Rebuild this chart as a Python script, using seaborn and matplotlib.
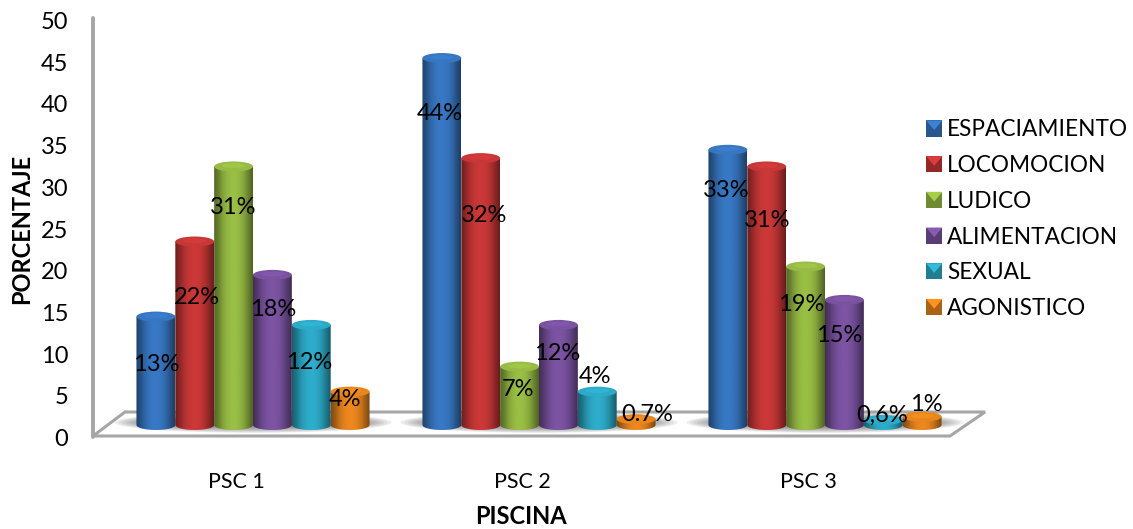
import numpy as np
import pandas as pd
import seaborn as sns
import matplotlib.pyplot as plt
from matplotlib.patches import Ellipse, Polygon, Rectangle, PathPatch
from matplotlib.path import Path
from matplotlib.legend_handler import HandlerPatch
from matplotlib.transforms import ScaledTranslation

piscinas = ['PSC 1', 'PSC 2', 'PSC 3']
conductas = ['ESPACIAMIENTO', 'LOCOMOCION', 'LUDICO', 'ALIMENTACION', 'SEXUAL', 'AGONISTICO']
colores = ['#3878C4', '#CC3838', '#9ABF45', '#7C54A3', '#2DADCB', '#EE881E']

espaciamiento = [13, 44, 33]
locomocion = [22, 32, 31]
ludico = [31, 7, 19]
alimentacion = [18, 12, 15]
sexual = [12, 4, 0.6]
agonistico = [4, 0.7, 1]

etiquetas = [['13%', '44%', '33%'], ['22%', '32%', '31%'], ['31%', '7%', '19%'],
             ['18%', '12%', '15%'], ['12%', '4%', '0,6%'], ['4%', '0.7%', '1%']]
# label offsets from the top of each bar, in pixels (x, down)
desp_x = [[0, -2, -2], [2, 3, 0], [0, -2, -4], [1, -1, -5], [-2, -2, -1], [-5, 11, 4]]
desp_y = [[48, 55, 41], [56, 57, 54], [41, 23, 38], [35, 29, 36], [38, -15, -5], [8, -5, -12]]

W, H = 1133, 529

df = pd.DataFrame({'piscina': piscinas * 6,
                   'conducta': np.repeat(conductas, 3),
                   'valor': espaciamiento + locomocion + ludico + alimentacion + sexual + agonistico})

sns.set_theme(style='white')
plt.rcParams['font.family'] = ['Lato', 'DejaVu Sans']

fig = plt.figure(figsize=(W / 100, H / 100), dpi=100)
ax = fig.add_axes([110 / W, 1 - 425 / H, (968 - 110) / W, (425 - 8) / H])
ax.patch.set_alpha(0)


def px(x, y):
    return x / W, 1 - y / H


# floor and wall
gris = '#A6A6A6'
piso = Polygon([px(125, 412), px(985, 412), px(950, 436), px(93, 436)], closed=True, transform=fig.transFigure,
               facecolor='white', edgecolor=gris, linewidth=2.2, zorder=-5)
fig.add_artist(piso)
fig.add_artist(plt.Line2D(*zip(px(93, 18), px(93, 437)), color=gris, linewidth=2.8, zorder=-4))

sns.barplot(data=df, x='piscina', y='valor', hue='conducta', hue_order=conductas, palette=colores,
            width=0.815, gap=0, saturation=1, legend=False, ax=ax)
ax.set_xlim(-0.5, 2.5)
ax.set_ylim(0, 50)

# soft shadows on the floor
for i in range(3):
    for k in range(10):
        ax.add_patch(Ellipse((i, 0.3), 0.97 - 0.025 * k, 2.5 - 0.16 * k, facecolor='#555555', alpha=0.09,
                             edgecolor='none', clip_on=False, zorder=1))

# cylinders from the seaborn bars
rad_y = 5 / (417 / 50)
sombra = np.array([0.55, 0.68, 0.85, 0.95, 1.0, 1.0, 0.95, 0.85, 0.68, 0.52])
xs = np.linspace(0, 1, 64)
perfil = np.interp(xs, np.linspace(0, 1, len(sombra)), sombra)
t = np.linspace(np.pi, 2 * np.pi, 40)
z = 3
for cont, color in zip(ax.containers, colores):
    base = np.array(plt.matplotlib.colors.to_rgb(color))
    grad = np.clip(perfil[None, :, None] * base, 0, 1)
    for bar in cont:
        bx, bw, bh = bar.get_x(), bar.get_width(), bar.get_height()
        bar.set_visible(False)
        cx = bx + bw / 2
        low = np.column_stack([cx + bw / 2 * np.cos(t), rad_y * np.sin(t)])
        verts = np.vstack([low, [[bx + bw, bh], [bx, bh]], low[:1]])
        cuerpo = Path(verts)
        im = ax.imshow(grad, extent=(bx, bx + bw, -rad_y, bh), aspect='auto', zorder=z)
        clip = PathPatch(cuerpo, transform=ax.transData, facecolor='none', edgecolor='none', clip_on=False)
        ax.add_patch(clip)
        im.set_clip_path(clip)
        im.set_clip_box(fig.bbox)
        ax.add_patch(Ellipse((cx, bh), bw, 2 * rad_y, facecolor=np.clip(base * 0.98, 0, 1),
                             edgecolor='none', zorder=z + 0.1, clip_on=False))
        ax.add_patch(Ellipse((cx, bh + 0.1), bw * 0.6, rad_y, facecolor=np.clip(base * 1.1, 0, 1),
                             edgecolor='none', alpha=0.5, zorder=z + 0.2, clip_on=False))
        z += 1
ax.set_xlim(-0.5, 2.5)
ax.set_ylim(0, 50)

# data labels
for cont, txts, dxs, dys in zip(ax.containers, etiquetas, desp_x, desp_y):
    for bar, txt, dx, dy in zip(cont, txts, dxs, dys):
        ax.annotate(txt, (bar.get_x() + bar.get_width() / 2, bar.get_height()), xytext=(dx * 0.72, -dy * 0.72),
                    textcoords='offset points', ha='center', va='center', fontsize=17, color='black',
                    zorder=200, annotation_clip=False)

# axes
sns.despine(ax=ax, left=True, bottom=True)
ax.set_yticks(range(0, 51, 5))
ax.tick_params(axis='y', length=0, pad=30, labelsize=17, labelcolor='black')
ax.tick_params(axis='x', length=0, pad=33.5, labelsize=15.5, labelcolor='black')
for lab in ax.get_yticklabels():
    lab.set_transform(lab.get_transform() + ScaledTranslation(0, -12.5 / 100, fig.dpi_scale_trans))
for lab in ax.get_xticklabels():
    lab.set_transform(lab.get_transform() + ScaledTranslation(-17 / 100, 0, fig.dpi_scale_trans))

ax.set_xlabel('PISCINA', fontsize=17, fontweight='bold', color='black', va='center')
ax.xaxis.set_label_coords(*px(521, 516), transform=fig.transFigure)
ax.set_ylabel('PORCENTAJE', fontsize=17, fontweight='bold', color='black', va='center')
ax.yaxis.set_label_coords(*px(22, 229), transform=fig.transFigure)


# legend keys with a bevel
class HandlerBisel(HandlerPatch):
    def create_artists(self, legend, orig, xd, yd, width, height, fontsize, trans):
        base = np.array(orig.get_facecolor()[:3])
        x0, y0 = -xd, -yd
        fondo = Rectangle((x0, y0), width, height, facecolor=base * 0.72, edgecolor='none', transform=trans)
        tri = Polygon([(x0, y0 + height), (x0 + width, y0 + height), (x0 + width * 0.5, y0 + height * 0.4)],
                      facecolor=np.clip(base * 1.08, 0, 1), edgecolor='none', transform=trans)
        return [fondo, tri]


handles = [Rectangle((0, 0), 1, 1, facecolor=c) for c in colores]
fig.legend(handles, conductas, loc='upper left', bbox_to_anchor=px(905.7, 99), frameon=False, fontsize=16.3,
           handlelength=0.72, handleheight=0.72, handletextpad=0.2, labelspacing=0.65, labelcolor='black',
           handler_map={Rectangle: HandlerBisel()})

fig.savefig('out.png', dpi=100)
